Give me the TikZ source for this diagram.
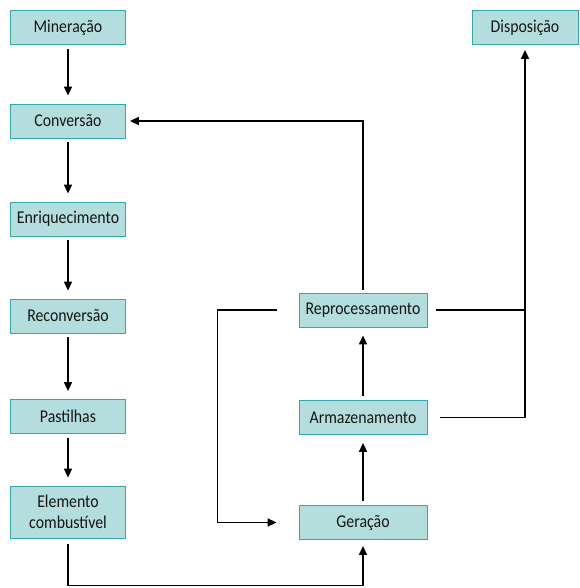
\documentclass[tikz,border=0pt]{standalone}
\usepackage{fontspec}
\setmainfont{Carlito}[FakeStretch=0.88]
\usetikzlibrary{arrows.meta}
\definecolor{boxfill}{RGB}{180,221,222}
\definecolor{boxline}{RGB}{50,168,170}
\definecolor{texto}{RGB}{20,20,20}
\begin{document}
\begin{tikzpicture}[x=1pt,y=-1pt,
etapa/.style={draw=boxline,fill=boxfill,line width=.8pt,inner sep=0pt,minimum height=34pt,align=center,text=texto,font=\fontsize{18}{19}\selectfont},
esq/.style={etapa,minimum width=115pt},
dir/.style={etapa,minimum width=128pt},
fio/.style={line width=1.6pt},
seta/.style={fio,-{Triangle[length=9pt,width=8pt]},shorten <=4pt,shorten >=8pt}]
\useasboundingbox(0,0)rectangle(579,588);
\node[esq](min)at(68,27.5){Mineração};
\node[esq](conv)at(68,121){Conversão};
\node[esq](enr)at(68,219){Enriquecimento};
\node[esq](rec)at(68,316){Reconversão};
\node[esq](pas)at(68,416.5){Pastilhas};
\node[esq,minimum height=52pt,font=\fontsize{18}{21}\selectfont](ele)at(68,512){Elemento\\combustível};
\node[dir](rep)at(363,310){Reprocessamento};
\node[dir](arm)at(363,417.5){Armazenamento};
\node[dir](ger)at(363,522.5){Geração};
\node[etapa,minimum width=106pt](dis)at(525,27.5){Disposição};
\draw[seta](min)--(conv);
\draw[seta](conv)--(enr);
\draw[seta](enr)--(rec);
\draw[seta](rec)--(pas);
\draw[seta](pas)--(ele);
\draw[seta](ger)--(arm);
\draw[seta](arm)--(rep);
\draw[seta,shorten <=6pt,shorten >=6pt](ele.south)--++(0,47)-|(ger.south);
\draw[seta,shorten <=3pt,shorten >=4pt](rep.north)|-(conv.east);
\draw[seta,shorten <=22pt,shorten >=22pt](rep.west)--++(-81,0)|-(ger.west);
\draw[seta,shorten <=13pt,shorten >=5pt](arm.east)-|(dis.south);
\draw[fio,shorten <=9pt](rep.east)--(rep.east-|dis.south);
\end{tikzpicture}
\end{document}
